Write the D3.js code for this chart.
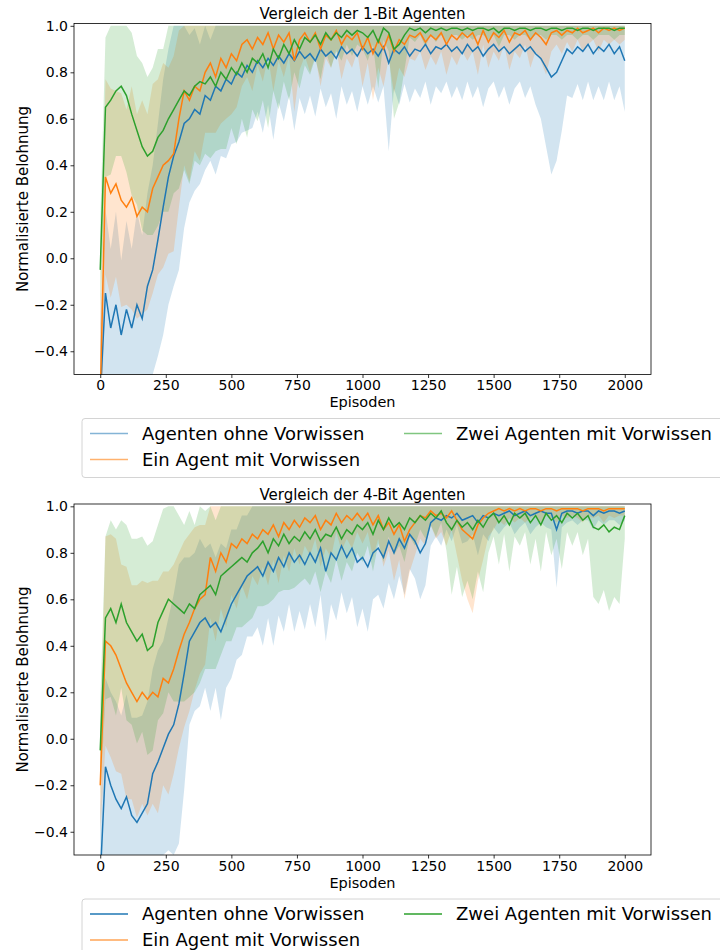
<!DOCTYPE html>
<html>
<head>
<meta charset="utf-8">
<script src="https://cdn.jsdelivr.net/npm/d3@7"></script>
<style>
  body { margin: 0; background: #fff; }
  svg { font-family: "DejaVu Sans", sans-serif; }
</style>
</head>
<body>
<svg id="chart" width="720" height="950"></svg>
<script>
// Learning curves, one value every 20 episodes (0..2000)
const EPISODES = d3.range(0, 2001, 20);
const SERIES_NAMES = ["Agenten ohne Vorwissen", "Ein Agent mit Vorwissen", "Zwei Agenten mit Vorwissen"];
const COLORS = ["#1f77b4", "#ff7f0e", "#2ca02c"];
const X_TICKS = [0, 250, 500, 750, 1000, 1250, 1500, 1750, 2000];
const Y_TICKS = [-0.4, -0.2, 0.0, 0.2, 0.4, 0.6, 0.8, 1.0];
const TITLES = ["Vergleich der 1-Bit Agenten", "Vergleich der 4-Bit Agenten"];

// --- 1-Bit ---
const bit1NoPrior = [
  -0.6, -0.15, -0.3, -0.2, -0.33, -0.22, -0.3, -0.2, -0.26, -0.12,
  -0.05, 0.08, 0.22, 0.35, 0.44, 0.5, 0.58, 0.6, 0.64, 0.62,
  0.7, 0.68, 0.74, 0.72, 0.77, 0.75, 0.8, 0.78, 0.83, 0.8,
  0.85, 0.82, 0.86, 0.83, 0.87, 0.84, 0.88, 0.85, 0.89, 0.86,
  0.88, 0.85, 0.9, 0.87, 0.89, 0.86, 0.91, 0.88, 0.9, 0.87,
  0.91, 0.88, 0.9, 0.87, 0.91, 0.84, 0.9, 0.88, 0.91, 0.87,
  0.9, 0.89, 0.92, 0.88, 0.91, 0.9, 0.92, 0.89, 0.91, 0.88,
  0.92, 0.89, 0.91, 0.87, 0.9, 0.92, 0.89, 0.91, 0.88, 0.9,
  0.92, 0.89, 0.91, 0.88, 0.86, 0.82, 0.78, 0.8, 0.85, 0.9,
  0.88, 0.91, 0.89, 0.92, 0.88, 0.91, 0.89, 0.92, 0.88, 0.91,
  0.85];
const bit1NoPriorSd = [
  0.32, 0.36, 0.34, 0.4, 0.32, 0.38, 0.34, 0.4, 0.36, 0.4,
  0.45, 0.5, 0.55, 0.55, 0.56, 0.55, 0.45, 0.36, 0.35, 0.3,
  0.32, 0.26, 0.38, 0.28, 0.34, 0.26, 0.3, 0.24, 0.28, 0.24,
  0.22, 0.28, 0.2, 0.32, 0.2, 0.25, 0.18, 0.3, 0.2, 0.24,
  0.18, 0.24, 0.17, 0.22, 0.18, 0.26, 0.17, 0.22, 0.18, 0.24,
  0.17, 0.22, 0.16, 0.2, 0.17, 0.38, 0.17, 0.22, 0.16, 0.2,
  0.17, 0.2, 0.16, 0.22, 0.17, 0.19, 0.16, 0.2, 0.17, 0.2,
  0.16, 0.2, 0.17, 0.22, 0.17, 0.16, 0.2, 0.17, 0.22, 0.17,
  0.16, 0.2, 0.17, 0.22, 0.26, 0.34, 0.42, 0.38, 0.3, 0.2,
  0.19, 0.16, 0.21, 0.16, 0.2, 0.17, 0.21, 0.16, 0.2, 0.17,
  0.22];
const bit1OnePrior = [
  -0.6, 0.35, 0.28, 0.32, 0.25, 0.22, 0.26, 0.18, 0.22, 0.2,
  0.3, 0.35, 0.4, 0.42, 0.45, 0.6, 0.72, 0.68, 0.74, 0.72,
  0.8, 0.84, 0.78, 0.86, 0.82, 0.88, 0.85, 0.92, 0.94, 0.9,
  0.95, 0.92, 0.97, 0.9, 0.96, 0.93, 0.97, 0.85, 0.94, 0.97,
  0.93, 0.97, 0.9, 0.96, 0.94, 0.98, 0.92, 0.96, 0.94, 0.97,
  0.9, 0.95, 0.88, 0.94, 0.9, 0.96, 0.89, 0.94, 0.92, 0.96,
  0.95, 0.97, 0.93, 0.96, 0.94, 0.97, 0.92, 0.96, 0.94, 0.97,
  0.95, 0.97, 0.92, 0.98, 0.93, 0.97, 0.95, 0.98, 0.93, 0.97,
  0.96, 0.98, 0.94, 0.97, 0.95, 0.92, 0.97, 0.98, 0.96, 0.98,
  0.97, 0.99, 0.97, 0.98, 0.99, 0.97, 0.99, 0.98, 0.99, 0.98,
  0.99];
const bit1OnePriorSd = [
  0.3, 0.42, 0.45, 0.4, 0.46, 0.42, 0.48, 0.44, 0.46, 0.42,
  0.45, 0.42, 0.44, 0.4, 0.42, 0.38, 0.32, 0.35, 0.28, 0.3,
  0.26, 0.3, 0.24, 0.28, 0.22, 0.26, 0.2, 0.18, 0.16, 0.18,
  0.12, 0.16, 0.1, 0.18, 0.11, 0.15, 0.1, 0.22, 0.13, 0.1,
  0.13, 0.1, 0.16, 0.1, 0.12, 0.08, 0.15, 0.1, 0.12, 0.08,
  0.16, 0.11, 0.2, 0.12, 0.16, 0.1, 0.18, 0.12, 0.14, 0.1,
  0.1, 0.08, 0.12, 0.09, 0.11, 0.08, 0.13, 0.09, 0.11, 0.08,
  0.1, 0.08, 0.13, 0.06, 0.11, 0.08, 0.1, 0.06, 0.12, 0.08,
  0.1, 0.06, 0.12, 0.08, 0.1, 0.13, 0.08, 0.06, 0.08, 0.05,
  0.08, 0.05, 0.08, 0.06, 0.05, 0.08, 0.05, 0.06, 0.05, 0.06,
  0.05];
const bit1TwoPrior = [
  -0.05, 0.65, 0.68, 0.72, 0.74, 0.7, 0.62, 0.55, 0.48, 0.44,
  0.46, 0.52, 0.55, 0.6, 0.64, 0.68, 0.72, 0.7, 0.74, 0.76,
  0.75, 0.78, 0.74, 0.8, 0.77, 0.82, 0.79, 0.84, 0.8, 0.86,
  0.84, 0.88, 0.82, 0.9, 0.86, 0.92, 0.88, 0.94, 0.9, 0.95,
  0.93, 0.96, 0.92, 0.97, 0.94, 0.97, 0.95, 0.98, 0.96, 0.98,
  0.97, 0.95, 0.98, 0.93, 0.99, 0.97, 0.9, 0.92, 0.96, 0.99,
  0.98, 0.99, 0.97, 0.99, 0.98, 0.99, 0.98, 0.99, 0.99, 0.98,
  0.99, 0.98, 0.99, 0.99, 0.98, 0.99, 0.97, 0.99, 0.99, 0.98,
  0.99, 0.99, 0.98, 0.99, 0.99, 0.98, 0.99, 0.99, 0.98, 0.99,
  0.99, 0.98, 0.99, 0.99, 0.98, 0.99, 0.99, 0.99, 0.98, 0.99,
  0.99];
const bit1TwoPriorSd = [
  0.2, 0.3, 0.32, 0.28, 0.3, 0.33, 0.35, 0.32, 0.36, 0.34,
  0.36, 0.38, 0.35, 0.4, 0.36, 0.38, 0.34, 0.38, 0.32, 0.36,
  0.3, 0.35, 0.28, 0.33, 0.3, 0.26, 0.3, 0.24, 0.28, 0.22,
  0.25, 0.2, 0.26, 0.18, 0.22, 0.16, 0.2, 0.14, 0.17, 0.12,
  0.14, 0.1, 0.15, 0.08, 0.12, 0.08, 0.1, 0.06, 0.09, 0.06,
  0.07, 0.1, 0.06, 0.2, 0.05, 0.08, 0.3, 0.25, 0.15, 0.04,
  0.05, 0.03, 0.06, 0.03, 0.05, 0.03, 0.05, 0.03, 0.03, 0.04,
  0.03, 0.04, 0.03, 0.03, 0.04, 0.03, 0.06, 0.03, 0.03, 0.04,
  0.03, 0.03, 0.04, 0.03, 0.03, 0.04, 0.03, 0.03, 0.04, 0.03,
  0.03, 0.04, 0.03, 0.03, 0.04, 0.03, 0.03, 0.03, 0.04, 0.03,
  0.03];

// --- 4-Bit ---
const bit4NoPrior = [
  -0.6, -0.12, -0.2, -0.26, -0.3, -0.25, -0.33, -0.36, -0.32, -0.28,
  -0.15, -0.1, -0.04, 0.02, 0.06, 0.15, 0.28, 0.42, 0.46, 0.5,
  0.52, 0.48, 0.5, 0.46, 0.52, 0.58, 0.62, 0.66, 0.7, 0.72,
  0.74, 0.7, 0.76, 0.72, 0.78, 0.74, 0.8, 0.76, 0.79, 0.75,
  0.8, 0.76, 0.82, 0.72, 0.8, 0.77, 0.83, 0.78, 0.82, 0.76,
  0.78, 0.74, 0.8, 0.82, 0.78, 0.85, 0.8, 0.86, 0.82, 0.88,
  0.85, 0.8, 0.84, 0.93, 0.95, 0.94, 0.96, 0.95, 0.97, 0.94,
  0.95, 0.96, 0.93, 0.96, 0.95, 0.97, 0.96, 0.97, 0.98, 0.96,
  0.97, 0.98, 0.96, 0.97, 0.98, 0.97, 0.97, 0.9, 0.97, 0.98,
  0.98, 0.97, 0.98, 0.98, 0.96, 0.98, 0.97, 0.98, 0.98, 0.97,
  0.98];
const bit4NoPriorSd = [
  0.3, 0.38, 0.4, 0.42, 0.4, 0.44, 0.42, 0.45, 0.42, 0.44,
  0.45, 0.48, 0.46, 0.5, 0.56, 0.6, 0.5, 0.36, 0.34, 0.36,
  0.3, 0.36, 0.28, 0.38, 0.3, 0.32, 0.28, 0.3, 0.26, 0.28,
  0.26, 0.3, 0.24, 0.32, 0.25, 0.28, 0.22, 0.3, 0.24, 0.28,
  0.22, 0.28, 0.2, 0.3, 0.22, 0.26, 0.2, 0.24, 0.21, 0.28,
  0.22, 0.28, 0.2, 0.2, 0.22, 0.18, 0.2, 0.16, 0.2, 0.15,
  0.16, 0.2, 0.18, 0.1, 0.08, 0.11, 0.06, 0.1, 0.05, 0.1,
  0.1, 0.08, 0.14, 0.08, 0.1, 0.06, 0.08, 0.06, 0.05, 0.08,
  0.06, 0.05, 0.08, 0.06, 0.05, 0.06, 0.07, 0.25, 0.06, 0.05,
  0.04, 0.05, 0.04, 0.04, 0.06, 0.04, 0.05, 0.04, 0.04, 0.05,
  0.04];
const bit4OnePrior = [
  -0.2, 0.42, 0.4, 0.36, 0.3, 0.24, 0.2, 0.16, 0.2, 0.17,
  0.2, 0.18, 0.26, 0.24, 0.3, 0.38, 0.45, 0.5, 0.56, 0.6,
  0.62, 0.78, 0.72, 0.8, 0.76, 0.84, 0.82, 0.86, 0.84, 0.88,
  0.86, 0.9, 0.88, 0.92, 0.87, 0.93, 0.9, 0.94, 0.91, 0.95,
  0.93, 0.96, 0.9, 0.94, 0.92, 0.97, 0.93, 0.96, 0.94, 0.97,
  0.94, 0.97, 0.92, 0.96, 0.9, 0.93, 0.88, 0.92, 0.85, 0.9,
  0.93, 0.96, 0.95, 0.98, 0.96, 0.97, 0.95, 0.98, 0.94, 0.9,
  0.88, 0.86, 0.92, 0.95, 0.97, 0.98, 0.99, 0.98, 0.99, 0.98,
  0.99, 0.98, 0.99, 0.99, 0.98, 0.99, 0.99, 0.98, 0.99, 0.99,
  0.99, 0.99, 0.98, 0.99, 0.99, 0.99, 0.98, 0.99, 0.99, 0.99,
  0.99];
const bit4OnePriorSd = [
  0.2, 0.45, 0.48, 0.5, 0.45, 0.5, 0.46, 0.5, 0.48, 0.5,
  0.48, 0.5, 0.46, 0.48, 0.45, 0.42, 0.4, 0.38, 0.35, 0.32,
  0.3, 0.26, 0.3, 0.24, 0.28, 0.22, 0.26, 0.2, 0.24, 0.18,
  0.2, 0.16, 0.22, 0.15, 0.2, 0.14, 0.18, 0.12, 0.16, 0.12,
  0.14, 0.1, 0.16, 0.12, 0.14, 0.08, 0.12, 0.1, 0.12, 0.08,
  0.1, 0.08, 0.14, 0.1, 0.16, 0.12, 0.2, 0.15, 0.25, 0.18,
  0.14, 0.1, 0.12, 0.06, 0.1, 0.08, 0.12, 0.08, 0.15, 0.22,
  0.28, 0.32, 0.24, 0.18, 0.1, 0.08, 0.05, 0.06, 0.04, 0.05,
  0.04, 0.05, 0.04, 0.03, 0.05, 0.03, 0.04, 0.05, 0.03, 0.04,
  0.03, 0.04, 0.05, 0.03, 0.04, 0.03, 0.05, 0.03, 0.04, 0.03,
  0.03];
const bit4TwoPrior = [
  -0.05, 0.52, 0.56, 0.5, 0.58, 0.5, 0.46, 0.42, 0.45, 0.38,
  0.4, 0.5, 0.55, 0.6, 0.58, 0.56, 0.54, 0.58, 0.56, 0.62,
  0.64, 0.66, 0.62, 0.7, 0.72, 0.74, 0.76, 0.78, 0.76, 0.8,
  0.82, 0.85, 0.8, 0.86, 0.83, 0.88, 0.84, 0.87, 0.85, 0.89,
  0.86, 0.9, 0.85, 0.88, 0.87, 0.91, 0.86, 0.9, 0.88, 0.92,
  0.9, 0.93, 0.88, 0.94, 0.9, 0.95, 0.91, 0.93, 0.9, 0.95,
  0.93, 0.96, 0.94, 0.97, 0.95, 0.98, 0.93, 0.9, 0.94, 0.91,
  0.93, 0.9, 0.94, 0.91, 0.95, 0.97, 0.93, 0.96, 0.92, 0.97,
  0.95, 0.97, 0.93, 0.96, 0.92, 0.97, 0.94, 0.96, 0.93, 0.97,
  0.95, 0.97, 0.94, 0.96, 0.91, 0.9, 0.92, 0.89, 0.91, 0.9,
  0.96];
const bit4TwoPriorSd = [
  0.2, 0.35, 0.38, 0.4, 0.36, 0.42, 0.4, 0.44, 0.42, 0.45,
  0.45, 0.42, 0.44, 0.4, 0.42, 0.4, 0.38, 0.4, 0.36, 0.38,
  0.34, 0.36, 0.32, 0.34, 0.3, 0.32, 0.28, 0.3, 0.26, 0.28,
  0.25, 0.28, 0.22, 0.26, 0.2, 0.24, 0.2, 0.22, 0.18, 0.2,
  0.2, 0.18, 0.22, 0.16, 0.2, 0.14, 0.18, 0.14, 0.16, 0.12,
  0.14, 0.1, 0.16, 0.1, 0.14, 0.08, 0.12, 0.1, 0.14, 0.08,
  0.1, 0.06, 0.08, 0.05, 0.08, 0.05, 0.12, 0.28, 0.2, 0.3,
  0.25, 0.3, 0.22, 0.28, 0.15, 0.1, 0.18, 0.08, 0.2, 0.1,
  0.12, 0.08, 0.18, 0.1, 0.2, 0.08, 0.15, 0.1, 0.2, 0.08,
  0.12, 0.08, 0.15, 0.1, 0.3, 0.32, 0.28, 0.34, 0.3, 0.32,
  0.1];

const PANELS = [
  { title: TITLES[0], top: 23.5, means: [bit1NoPrior, bit1OnePrior, bit1TwoPrior],
    sds: [bit1NoPriorSd, bit1OnePriorSd, bit1TwoPriorSd], legendAlpha: [0.55, 0.6, 0.6] },
  { title: TITLES[1], top: 504, means: [bit4NoPrior, bit4OnePrior, bit4TwoPrior],
    sds: [bit4NoPriorSd, bit4OnePriorSd, bit4TwoPriorSd], legendAlpha: [1, 0.7, 1] }
];

const svg = d3.select('#chart');
const left = 74, right = 651, plotH = 351;

PANELS.forEach((p, pi) => {
  const x = d3.scaleLinear().domain([-100, 2100]).range([left, right]);
  const y = d3.scaleLinear().domain([-0.5, 1.01]).range([p.top + plotH, p.top]);

  const clipId = 'clip' + pi;
  svg.append('clipPath').attr('id', clipId)
    .append('rect')
    .attr('x', left).attr('y', p.top)
    .attr('width', right - left).attr('height', plotH);

  const plot = svg.append('g').attr('clip-path', `url(#${clipId})`);
  const bandLayer = plot.append('g');
  const lineLayer = plot.append('g');

  p.means.forEach((m, si) => {
    const sd = p.sds[si];
    const rows = EPISODES.map((ep, i) => ({ ep, m: m[i], lo: m[i] - sd[i], hi: Math.min(1, m[i] + sd[i]) }));

    const area = d3.area()
      .x(d => x(d.ep))
      .y0(d => y(d.lo))
      .y1(d => y(d.hi));
    bandLayer.append('path')
      .datum(rows)
      .attr('d', area)
      .attr('fill', COLORS[si])
      .attr('fill-opacity', 0.2);

    const line = d3.line().x(d => x(d.ep)).y(d => y(d.m));
    lineLayer.append('path')
      .datum(rows)
      .attr('d', line)
      .attr('fill', 'none')
      .attr('stroke', COLORS[si])
      .attr('stroke-width', 1.5);
  });

  // axes
  const xAxis = d3.axisBottom(x).tickValues(X_TICKS).tickFormat(d3.format('d'))
    .tickSize(3.5).tickPadding(2.5);
  const yAxis = d3.axisLeft(y).tickValues(Y_TICKS).tickFormat(d3.format('.1f'))
    .tickSize(3.5).tickPadding(2.5);

  const gx = svg.append('g')
    .attr('transform', `translate(0,${p.top + plotH})`)
    .call(xAxis);
  const gy = svg.append('g')
    .attr('transform', `translate(${left},0)`)
    .call(yAxis);
  [gx, gy].forEach(g => {
    g.select('.domain').remove();
    g.selectAll('text').attr('font-size', 14).attr('fill', '#000').attr('font-family', '"DejaVu Sans", sans-serif');
    g.selectAll('line').attr('stroke', '#000').attr('stroke-width', 0.8);
  });

  // frame
  svg.append('rect')
    .attr('x', left).attr('y', p.top)
    .attr('width', right - left).attr('height', plotH)
    .attr('fill', 'none').attr('stroke', '#000').attr('stroke-width', 0.8);

  // labels
  svg.append('text')
    .attr('x', (left + right) / 2).attr('y', p.top - 4.5)
    .attr('text-anchor', 'middle').attr('font-size', 15)
    .text(p.title);
  svg.append('text')
    .attr('x', (left + right) / 2).attr('y', p.top + plotH + 32.5)
    .attr('text-anchor', 'middle').attr('font-size', 14.5)
    .text('Episoden');
  svg.append('text')
    .attr('transform', `translate(28,${p.top + plotH / 2}) rotate(-90)`)
    .attr('text-anchor', 'middle').attr('font-size', 15)
    .text('Normalisierte Belohnung');

  // legend
  const lg = svg.append('g').attr('transform', `translate(82,${p.top + 395})`);
  lg.append('rect')
    .attr('width', 660).attr('height', 59).attr('rx', 3)
    .attr('fill', '#fff').attr('stroke', '#d4d4d4').attr('stroke-width', 1);
  const slots = [[8, 15], [8, 41], [322, 15]];
  SERIES_NAMES.forEach((name, si) => {
    const [lx, ly] = slots[si];
    lg.append('line')
      .attr('x1', lx).attr('x2', lx + 38)
      .attr('y1', ly).attr('y2', ly)
      .attr('stroke', COLORS[si]).attr('stroke-width', 1.5)
      .attr('stroke-opacity', p.legendAlpha[si]);
    lg.append('text')
      .attr('x', lx + 52).attr('y', ly).attr('dy', '0.35em')
      .attr('font-size', 18)
      .text(name);
  });
});
</script>
</body>
</html>
